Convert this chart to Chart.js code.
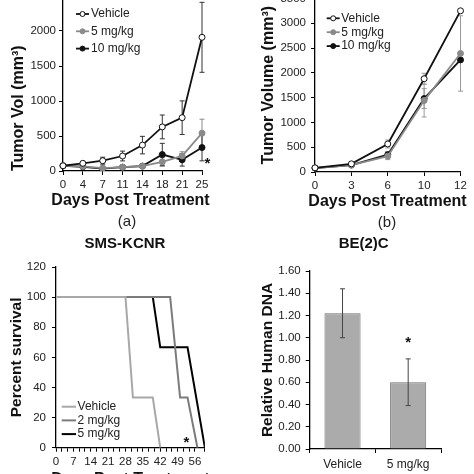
<!DOCTYPE html>
<html>
<head>
<meta charset="utf-8">
<script src="https://cdn.jsdelivr.net/npm/chart.js@4.4.1/dist/chart.umd.min.js"></script>
<style>
  html, body { margin: 0; padding: 0; background: #fff; }
  body { width: 474px; height: 474px; overflow: hidden; position: relative; font-family: "Liberation Sans", Arial, sans-serif; }
  canvas { position: absolute; }
  .tag { position: absolute; font-size: 15px; color: #222; transform: translate(-50%, -50%); }
</style>
</head>
<body>
<canvas id="chartA" width="237" height="257" style="left:0;top:-20px"></canvas>
<canvas id="chartB" width="237" height="257" style="left:237px;top:-20px"></canvas>
<canvas id="chartC" width="250" height="257" style="left:0;top:237px"></canvas>
<canvas id="chartD" width="253" height="237" style="left:237px;top:237px"></canvas>
<div class="tag" style="left:127px;top:220px">(a)</div>
<div class="tag" style="left:387px;top:221px">(b)</div>
<script>
const FONT = '"Liberation Sans", Arial, sans-serif';
Chart.defaults.font.family = FONT;
Chart.defaults.color = '#222';

// (a) tumor volume, days 0-25
const daysA = ['0', '4', '7', '11', '14', '18', '21', '25'];
const vehicleA = [75, 110, 147, 214, 370, 630, 762, 1910];
const vehicleErrA = [15, 20, 50, 70, 125, 170, 240, 500];
const mg5A = [75, 65, 40, 55, 70, 130, 215, 540];
const mg5ErrA = [10, 15, 15, 20, 20, 60, 60, 200];
const mg10A = [75, 60, 35, 55, 70, 235, 160, 335];
const mg10ErrA = [10, 10, 10, 10, 15, 160, 90, 190];

// (b) tumor volume, days 0-12
const daysB = ['0', '3', '6', '10', '12'];
const vehicleB = [85, 165, 565, 1880, 3250];
const vehicleErrB = [20, 30, 80, 110, 0];
const mg5B = [80, 140, 320, 1440, 2390];
const mg5ErrB = [20, 30, 70, 330, 760];
const mg10B = [80, 140, 350, 1480, 2260];
const mg10ErrB = [20, 30, 60, 200, 0];

// (c) survival, SMS-KCNR
const vehicleDaysC = [0, 28, 31, 39, 42];
const vehicleSurvC = [100, 100, 33.3, 33.3, 0];
const mg2DaysC = [0, 46, 50, 53, 57];
const mg2SurvC = [100, 100, 33.3, 33.3, 0];
const mg5DaysC = [0, 39, 42, 53, 60];
const mg5SurvC = [100, 100, 66.7, 66.7, 0];

// (d) BE(2)C human DNA
const groupsD = ['Vehicle', '5 mg/kg'];
const dnaD = [1.22, 0.60];
const dnaErrD = [0.22, 0.21];

const toXY = (xs, ys) => xs.map((x, i) => ({ x: x, y: ys[i] }));

// error bars from dataset.errs
const errorBars = {
  id: 'errorBars',
  draw(chart) {
    const ctx = chart.ctx;
    const yScale = chart.scales.y;
    chart.data.datasets.forEach((ds, i) => {
      if (!ds.errs) return;
      const meta = chart.getDatasetMeta(i);
      ctx.save();
      ctx.strokeStyle = ds.errColor || ds.borderColor;
      ctx.lineWidth = 1;
      meta.data.forEach((pt, j) => {
        const e = ds.errs[j];
        if (!e) return;
        const v = ds.data[j];
        const top = yScale.getPixelForValue(v + e);
        const bot = yScale.getPixelForValue(v - e);
        ctx.beginPath();
        ctx.moveTo(pt.x, top); ctx.lineTo(pt.x, bot);
        ctx.moveTo(pt.x - 2.5, top); ctx.lineTo(pt.x + 2.5, top);
        ctx.moveTo(pt.x - 2.5, bot); ctx.lineTo(pt.x + 2.5, bot);
        ctx.stroke();
      });
      ctx.restore();
    });
  },
  beforeDatasetsDraw(chart, args, opts) { if (opts.under) this.draw(chart); },
  afterDatasetsDraw(chart, args, opts) { if (!opts.under) this.draw(chart); }
};

// small legend drawn inside the plot, like the excel one
const boxLegend = {
  id: 'boxLegend',
  afterDraw(chart, args, opts) {
    if (!opts.len) return;
    const ctx = chart.ctx;
    ctx.save();
    ctx.font = opts.textFont;
    ctx.textBaseline = 'middle';
    chart.data.datasets.forEach((ds, i) => {
      const y = opts.top + i * opts.dy;
      ctx.strokeStyle = ds.borderColor;
      ctx.lineWidth = opts.lineWidth || ds.borderWidth;
      ctx.beginPath();
      ctx.moveTo(opts.left, y);
      ctx.lineTo(opts.left + opts.len, y);
      ctx.stroke();
      if (opts.marker) {
        ctx.beginPath();
        ctx.arc(opts.left + opts.len / 2, y, opts.marker, 0, Math.PI * 2);
        ctx.fillStyle = ds.pointBackgroundColor;
        ctx.fill();
        ctx.lineWidth = 1;
        ctx.strokeStyle = ds.pointBorderColor;
        ctx.stroke();
      }
      ctx.fillStyle = '#222';
      ctx.fillText(ds.label, opts.left + opts.len + opts.gap, y);
    });
    ctx.restore();
  }
};

// significance asterisk
const starMark = {
  id: 'starMark',
  afterDatasetsDraw(chart, args, opts) {
    if (opts.at === undefined) return;
    const ctx = chart.ctx;
    const px = chart.scales.x.getPixelForValue(opts.at) + (opts.dx || 0);
    const py = chart.scales.y.getPixelForValue(opts.level);
    ctx.save();
    ctx.font = 'bold 15px ' + FONT;
    ctx.fillStyle = '#111';
    ctx.textAlign = 'center';
    ctx.textBaseline = 'alphabetic';
    ctx.fillText('*', px, py + 0.57 * 15);
    ctx.restore();
  }
};

// free captions (chart titles, x-axis titles wider than the plot)
const captions = {
  id: 'captions',
  afterDraw(chart, args, opts) {
    if (!opts.list) return;
    const ctx = chart.ctx;
    ctx.save();
    ctx.fillStyle = '#111';
    ctx.textAlign = 'center';
    ctx.textBaseline = 'middle';
    opts.list.forEach(c => {
      ctx.font = c.font;
      ctx.fillText(c.text, c.x, c.y);
    });
    ctx.restore();
  }
};

const axisBorder = { color: '#000', width: 1.3 };
const tickGrid = { drawOnChartArea: false, drawTicks: true, tickLength: 4, color: '#000', lineWidth: 1 };
const baseOpts = { responsive: false, animation: false, devicePixelRatio: 1, events: [] };
const noLegend = { legend: { display: false }, tooltip: { enabled: false } };
const plainNum = v => String(v);
const xTitleFont = 'bold 16px ' + FONT;
const chartTitleFont = 'bold 15px ' + FONT;

function lineSet(label, data, errs, line, fill, errColor) {
  return {
    label: label, data: data, errs: errs, errColor: errColor,
    borderColor: line, borderWidth: 1.8, tension: 0,
    pointBackgroundColor: fill, pointBorderColor: line,
    pointRadius: 3, pointBorderWidth: 1
  };
}

// ---- (a)
new Chart(document.getElementById('chartA'), {
  type: 'line',
  data: {
    labels: daysA,
    datasets: [
      lineSet('Vehicle', vehicleA, vehicleErrA, '#111', '#fff', '#333'),
      lineSet('5 mg/kg', mg5A, mg5ErrA, '#8a8a8a', '#8a8a8a', '#8a8a8a'),
      lineSet('10 mg/kg', mg10A, mg10ErrA, '#111', '#111', '#333')
    ]
  },
  options: {
    ...baseOpts,
    layout: { padding: { top: 16, right: 35, left: 0, bottom: 0 } },
    plugins: {
      ...noLegend,
      errorBars: { under: true },
      boxLegend: { left: 76, top: 34, dy: 17.3, len: 13, gap: 2, marker: 2.5, lineWidth: 1.8, textFont: '12px ' + FONT },
      starMark: { at: 7, level: 167, dx: 5.5 },
      captions: { list: [{ text: 'Days Post Treatment', x: 130.5, y: 221, font: xTitleFont }] }
    },
    scales: {
      x: {
        type: 'category', offset: false, border: axisBorder, grid: tickGrid,
        ticks: { font: { size: 11.5 }, padding: 3, maxRotation: 0, autoSkip: false },
        afterFit: s => { s.height = 66; }
      },
      y: {
        min: 0, max: 2500, border: axisBorder, grid: tickGrid,
        ticks: { stepSize: 500, font: { size: 11.5 }, padding: 3, callback: plainNum },
        afterFit: s => { s.width = 63; },
        title: { display: true, text: 'Tumor Vol (mm³)', align: 'start', color: '#111', font: { size: 16, weight: 'bold' }, padding: { top: 9.2, bottom: 0 } }
      }
    }
  },
  plugins: [errorBars, boxLegend, starMark, captions]
});

// ---- (b)
new Chart(document.getElementById('chartB'), {
  type: 'line',
  data: {
    labels: daysB,
    datasets: [
      lineSet('Vehicle', vehicleB, vehicleErrB, '#111', '#fff', '#999'),
      lineSet('5 mg/kg', mg5B, mg5ErrB, '#8a8a8a', '#8a8a8a', '#999'),
      lineSet('10 mg/kg', mg10B, mg10ErrB, '#111', '#111', '#999')
    ]
  },
  options: {
    ...baseOpts,
    layout: { padding: { top: 18.4, right: 13.5, left: 0, bottom: 0 } },
    plugins: {
      ...noLegend,
      errorBars: { under: true },
      boxLegend: { left: 89.7, top: 38.3, dy: 13.9, len: 13, gap: 1.5, marker: 2.5, lineWidth: 1.8, textFont: '12px ' + FONT },
      captions: { list: [{ text: 'Days Post Treatment', x: 150.5, y: 221.7, font: xTitleFont }] }
    },
    scales: {
      x: {
        type: 'category', offset: false, border: axisBorder, grid: tickGrid,
        ticks: { font: { size: 11.5 }, padding: 3, maxRotation: 0, autoSkip: false },
        afterFit: s => { s.height = 65; }
      },
      y: {
        min: 0, max: 3500, border: axisBorder, grid: tickGrid,
        ticks: { stepSize: 500, font: { size: 11.5 }, padding: 5, callback: plainNum },
        afterFit: s => { s.width = 78; },
        title: { display: true, text: 'Tumor Volume (mm³)', color: '#111', font: { size: 16, weight: 'bold' }, padding: { top: 22.1, bottom: 0 } }
      }
    }
  },
  plugins: [errorBars, boxLegend, captions]
});

// ---- (c)
function survSet(label, xs, ys, color) {
  return { label: label, data: toXY(xs, ys), borderColor: color, borderWidth: 2, pointRadius: 0, tension: 0 };
}
new Chart(document.getElementById('chartC'), {
  type: 'line',
  data: {
    datasets: [
      survSet('Vehicle', vehicleDaysC, vehicleSurvC, '#a8a8a8'),
      survSet('2 mg/kg', mg2DaysC, mg2SurvC, '#7c7c7c'),
      survSet('5 mg/kg', mg5DaysC, mg5SurvC, '#000')
    ]
  },
  options: {
    ...baseOpts,
    layout: { padding: { top: 30, right: 45.1, left: 0, bottom: 0 } },
    plugins: {
      ...noLegend,
      boxLegend: { left: 61.7, top: 169.7, dy: 13.7, len: 14.3, gap: 1.6, lineWidth: 2, textFont: '12px ' + FONT },
      starMark: { at: 52.6, level: 6 },
      captions: { list: [
        { text: 'SMS-KCNR', x: 125, y: 7, font: chartTitleFont },
        { text: 'Days Post Treatment', x: 130.5, y: 243, font: xTitleFont }
      ] }
    },
    scales: {
      x: {
        type: 'linear', min: 0, max: 60, border: axisBorder, grid: tickGrid,
        ticks: {
          stepSize: 7 / 3, font: { size: 11.5 }, padding: 3, maxRotation: 0, minRotation: 0, autoSkip: false,
          callback: v => { const k = v / 7; return Math.abs(k - Math.round(k)) < 1e-6 ? String(Math.round(v)) : ''; }
        },
        afterFit: s => { s.height = 46.3; }
      },
      y: {
        min: 0, max: 120, border: axisBorder, grid: tickGrid,
        ticks: { stepSize: 20, font: { size: 11.5 }, padding: 6 },
        afterFit: s => { s.width = 56; },
        title: { display: true, text: 'Percent survival', color: '#111', font: { size: 15.5, weight: 'bold' }, padding: { top: 7.4, bottom: 0 } }
      }
    }
  },
  plugins: [boxLegend, starMark, captions]
});

// ---- (d)
new Chart(document.getElementById('chartD'), {
  type: 'bar',
  data: {
    labels: groupsD,
    datasets: [{
      label: 'Relative Human DNA', data: dnaD, errs: dnaErrD, errColor: '#444',
      backgroundColor: '#ababab', borderColor: '#6e6e6e', borderWidth: 1,
      barPercentage: 0.55, categoryPercentage: 1
    }]
  },
  options: {
    ...baseOpts,
    layout: { padding: { top: 34, right: 49, left: 0, bottom: 0 } },
    plugins: {
      ...noLegend,
      errorBars: { under: false },
      starMark: { at: 1, level: 0.99 },
      captions: { list: [{ text: 'BE(2)C', x: 126.7, y: 7, font: chartTitleFont }] }
    },
    scales: {
      x: {
        type: 'category', offset: true, border: axisBorder, grid: { ...tickGrid, offset: true },
        ticks: { font: { size: 12 }, padding: 4, maxRotation: 0 },
        afterFit: s => { s.height = 25; }
      },
      y: {
        min: 0, max: 1.6, border: axisBorder, grid: tickGrid,
        ticks: { stepSize: 0.2, font: { size: 11.5 }, padding: 5, callback: v => v.toFixed(2) },
        afterFit: s => { s.width = 72.7; },
        title: { display: true, text: 'Relative Human DNA', color: '#111', font: { size: 15.5, weight: 'bold' }, padding: { top: 21, bottom: 0 } }
      }
    }
  },
  plugins: [errorBars, starMark, captions]
});
</script>
</body>
</html>
